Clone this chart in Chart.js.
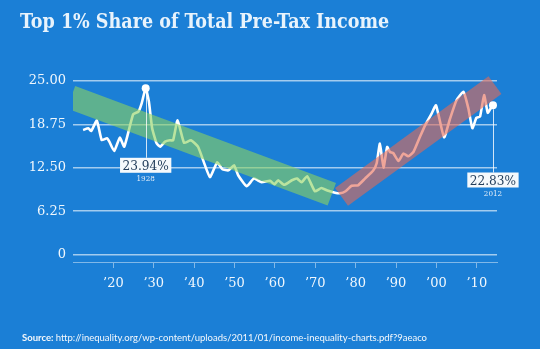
<!DOCTYPE html>
<html><head><meta charset="utf-8">
<script src="https://cdn.jsdelivr.net/npm/chart.js@4.4.1/dist/chart.umd.min.js"></script>
<style>html,body{margin:0;padding:0;background:#1b7fd6;}canvas{display:block;}</style>
</head><body>
<canvas id="c" width="540" height="349"></canvas>
<script>
const titleText = 'Top 1% Share of Total Pre-Tax Income';
const sourceLabel = 'Source:';
const sourceUrl = 'http://inequality.org/wp-content/uploads/2011/01/income-inequality-charts.pdf?9aeaco';

const years = [1912.5,1913.8,1914.5,1915.9,1917.1,1918.4,1919.0,1920.2,1921.6,1922.7,1924.9,1926.2,1927.0,1928.0,1928.8,1929.6,1930.7,1931.6,1932.8,1934.0,1934.8,1935.9,1937.5,1939.2,1941.0,1943.9,1945.7,1947.0,1948.5,1949.9,1950.9,1953.0,1954.8,1956.7,1958.8,1959.9,1960.8,1962.3,1964.2,1965.5,1966.6,1968.0,1969.9,1971.5,1973.0,1974.9,1976.1,1977.5,1979.0,1980.6,1982.3,1984.3,1985.2,1986.0,1986.9,1987.8,1988.5,1989.3,1990.6,1991.8,1993.0,1994.3,1995.9,1997.2,1998.8,1999.9,2001.9,2003.4,2005.0,2006.7,2007.9,2008.9,2009.9,2010.8,2011.8,2012.7,2013.3,2014.0];
const shares = [17.94,18.19,17.80,19.30,16.50,16.75,16.27,14.92,16.85,15.55,20.20,20.59,21.79,23.94,22.03,18.19,16.03,15.55,16.27,16.46,16.46,19.34,16.10,16.46,15.49,11.17,13.29,12.28,12.14,12.86,11.42,9.84,10.94,10.41,10.63,10.12,10.70,10.05,10.70,10.94,10.41,11.28,9.12,9.58,9.22,8.90,8.83,9.12,9.91,9.98,10.94,12.07,13.15,15.98,12.53,15.49,14.77,14.63,13.48,14.54,14.16,14.77,16.93,18.62,20.30,21.50,16.89,19.63,22.26,23.44,21.07,18.19,19.70,19.87,22.97,20.42,20.92,21.50];

const yTicks = [0, 6.25, 12.5, 18.75, 25];
const yTickLabels = ['0', '6.25', '12.50', '18.75', '25.00'];
const xTicks = [1920, 1930, 1940, 1950, 1960, 1970, 1980, 1990, 2000, 2010];
const xTickLabels = ['\u201920', '\u201930', '\u201940', '\u201950', '\u201960', '\u201970', '\u201980', '\u201990', '\u201900', '\u201910'];

const fallingTrendYears = [1909.5, 1974.1];
const fallingTrendValues = [22.65, 8.68];
const risingTrendYears = [1976.5, 2014.5];
const risingTrendValues = [8.3, 24.4];

const calloutYears = [1928, 2014.0];
const calloutValues = [23.94, 21.5];
const calloutLabels = ['23.94%', '22.83%'];
const calloutSubLabels = ['1928', '2012'];
const calloutBoxValues = [12.86, 10.74];

const pts = (xs, ys) => xs.map((x, i) => ({x: x, y: ys[i]}));
const SLAB = '"DejaVu Serif Condensed", "DejaVu Serif"';

const textPlugin = {
  id: 'texts',
  afterDatasetsDraw(chart) {
    const ctx = chart.ctx;
    const xs = chart.scales.x, ys = chart.scales.y;
    ctx.save();
    for (let i = 0; i < calloutYears.length; i++) {
      const px = xs.getPixelForValue(calloutYears[i]);
      const py = ys.getPixelForValue(calloutValues[i]);
      const by = ys.getPixelForValue(calloutBoxValues[i]);
      ctx.font = '13.5px ' + SLAB;
      const tw = ctx.measureText(calloutLabels[i]).width;
      const bw = tw + 5, bh = 15;
      ctx.strokeStyle = 'rgba(255,255,255,0.8)';
      ctx.lineWidth = 1;
      ctx.beginPath();
      ctx.moveTo(Math.round(px) + 0.5, py + 4);
      ctx.lineTo(Math.round(px) + 0.5, by - bh / 2);
      ctx.stroke();
      ctx.fillStyle = '#f5f9fc';
      ctx.fillRect(px - bw / 2, by - bh / 2, bw, bh);
      ctx.fillStyle = '#243f5c';
      ctx.textAlign = 'center';
      ctx.textBaseline = 'middle';
      ctx.fillText(calloutLabels[i], px, by + 1);
      ctx.font = '8px ' + SLAB;
      ctx.fillStyle = '#e4eef8';
      ctx.fillText(calloutSubLabels[i], px, by + bh / 2 + 6);
    }
    ctx.restore();
  },
  afterDraw(chart) {
    const ctx = chart.ctx;
    ctx.save();
    ctx.textAlign = 'left';
    ctx.textBaseline = 'alphabetic';
    ctx.fillStyle = '#e8f3fc';
    ctx.font = 'bold 19.5px ' + SLAB;
    ctx.fillText(titleText, 20, 28);
    ctx.fillStyle = '#f4f8fc';
    ctx.font = 'bold 9.5px Lato';
    ctx.fillText(sourceLabel, 22, 341);
    const w = ctx.measureText(sourceLabel + ' ').width;
    ctx.font = '9.5px Lato';
    ctx.fillText(sourceUrl, 22 + w, 341);
    ctx.restore();
  }
};

new Chart(document.getElementById('c'), {
  type: 'line',
  data: {
    datasets: [
      { data: pts(years, shares), borderColor: '#ffffff', borderWidth: 2.6, pointRadius: 0, tension: 0.15, borderJoinStyle: 'round', order: 2 },
      { data: pts(fallingTrendYears, fallingTrendValues), borderColor: 'rgba(140,210,95,0.6)', borderWidth: 24, borderCapStyle: 'butt', pointRadius: 0, order: 1 },
      { data: pts(risingTrendYears, risingTrendValues), borderColor: 'rgba(228,105,85,0.6)', borderWidth: 22, borderCapStyle: 'butt', pointRadius: 0, order: 1, clip: 10 },
      { data: pts(calloutYears, calloutValues), showLine: false, pointRadius: 4, pointBackgroundColor: '#ffffff', pointBorderWidth: 0, order: 0 }
    ]
  },
  options: {
    responsive: false,
    animation: false,
    events: [],
    layout: { padding: { top: 81, right: 43, bottom: 0, left: 0 } },
    plugins: { legend: { display: false }, tooltip: { enabled: false }, title: { display: false } },
    scales: {
      x: {
        type: 'linear', min: 1910, max: 2015,
        afterBuildTicks: s => { s.ticks = xTicks.map(v => ({ value: v })); },
        afterFit: s => { s.height = 87; },
        ticks: { autoSkip: false, maxRotation: 0, padding: 8, color: '#f0f7fd', font: { family: 'DejaVu Serif', size: 13 },
          callback: v => xTickLabels[xTicks.indexOf(v)] },
        grid: { drawOnChartArea: false, tickLength: 6, color: 'rgba(255,255,255,0.45)', lineWidth: 1 },
        border: { display: true, color: 'rgba(255,255,255,0.45)', width: 1 }
      },
      y: {
        type: 'linear', min: -1.07, max: 25,
        afterBuildTicks: s => { s.ticks = yTicks.map(v => ({ value: v })); },
        afterFit: s => { s.width = 73; },
        ticks: { padding: 7, color: '#f0f7fd', font: { family: 'DejaVu Serif', size: 13 },
          callback: v => yTickLabels[yTicks.indexOf(v)] },
        grid: { drawTicks: false, color: 'rgba(255,255,255,0.6)', lineWidth: 1.4 },
        border: { display: false }
      }
    }
  },
  plugins: [textPlugin]
});
</script>
</body></html>
